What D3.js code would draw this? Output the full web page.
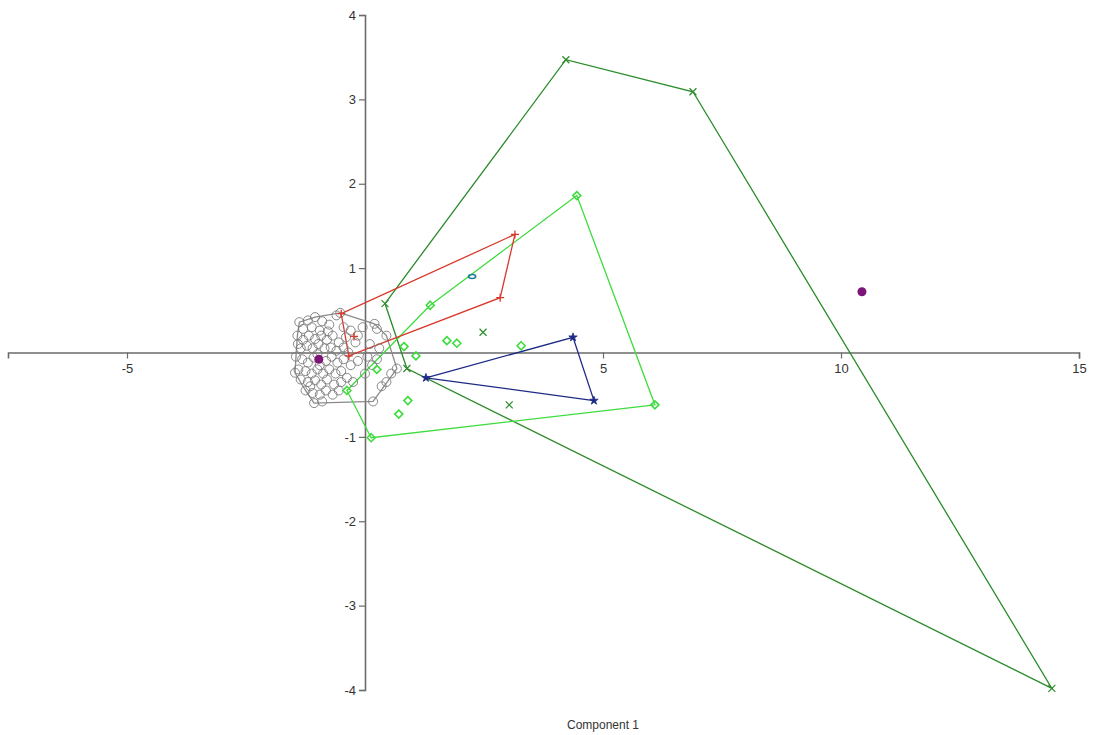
<!DOCTYPE html>
<html>
<head>
<meta charset="utf-8">
<script src="https://cdn.jsdelivr.net/npm/d3@7"></script>
<style>
    body { margin: 0; background: #fff; }
    #chart { width: 1099px; height: 735px; }
    text { font-family: "Liberation Sans", Arial, sans-serif; }
</style>
</head>
<body>
<div id="chart"></div>
<script>
// tick labels
const xTicks = [-5, 5, 10, 15];
const yTicks = [-4, -3, -2, -1, 1, 2, 3, 4];

// group 1 - gray circles
const grayPoints = [
    [-1.38, 0.36], [-1.2, 0.38], [-1.05, 0.42], [-0.9, 0.37], [-0.6, 0.44], [-0.52, 0.47],
    [-0.75, 0.33], [-1.3, 0.28], [-1.12, 0.3], [-0.95, 0.26],
    [-0.45, 0.3], [-0.3, 0.26], [-0.15, 0.2], [-0.05, 0.3], [0.2, 0.34], [0.25, 0.28],
    [0.45, 0.2], [0.1, 0.1], [-0.2, 0.12], [0.3, 0.05],
    [-1.42, 0.2], [-1.3, 0.15], [-1.18, 0.2], [-1.05, 0.16], [-0.92, 0.2], [-0.8, 0.15],
    [-0.68, 0.2], [-0.55, 0.12], [-1.35, 0.05], [-1.22, 0.08], [-1.1, 0.05], [-0.98, 0.1],
    [-0.85, 0.05], [-0.72, 0.06], [-0.6, 0.02], [-0.45, 0.06], [-0.35, 0.0],
    [-1.45, -0.05], [-1.32, -0.08], [-1.2, -0.12], [-1.08, -0.06], [-0.95, -0.15],
    [-0.82, -0.1], [-0.7, -0.05], [-0.58, -0.12], [-0.45, -0.08], [-0.3, -0.15],
    [-0.15, -0.1], [-1.4, -0.2], [-1.25, -0.22], [-1.12, -0.25], [-1.0, -0.2],
    [-0.88, -0.25], [-0.75, -0.2], [-0.62, -0.25], [-0.5, -0.22], [0.05, -0.05],
    [0.15, -0.15], [0.25, -0.08],
    [-1.47, -0.24], [-1.35, -0.32], [-1.2, -0.35], [-1.05, -0.33], [-0.92, -0.38],
    [-0.8, -0.32], [-0.65, -0.38], [-0.5, -0.35], [-0.38, -0.3], [-0.25, -0.35],
    [-1.25, -0.45], [-1.1, -0.48], [-0.95, -0.5], [-0.82, -0.45], [-0.68, -0.5],
    [-0.55, -0.45], [-1.07, -0.6], [-0.9, -0.58], [0.17, -0.58], [0.35, -0.4],
    [0.55, -0.25], [0.67, -0.19], [0.45, -0.35], [-1.41, 0.1], [-1.0, -0.02],
    [-0.78, 0.25], [-1.15, -0.4], [-0.4, 0.18], [0.0, -0.25]
];

// group 2 - red plus
const redPoints = [[-0.5, 0.46], [3.15, 1.4], [2.84, 0.65], [-0.34, -0.04], [-0.23, 0.19]];

// group 3 - light green diamonds
const lightGreenPoints = [
    [4.45, 1.86], [6.09, -0.62], [0.13, -1.01], [-0.38, -0.45], [1.37, 0.56],
    [1.72, 0.14], [1.93, 0.11], [3.28, 0.08], [0.82, 0.07], [1.07, -0.04],
    [0.9, -0.57], [0.71, -0.73], [0.25, -0.2]
];

// group 4 - dark green crosses
const darkGreenPoints = [
    [0.42, 0.58], [4.22, 3.47], [6.89, 3.09], [14.43, -3.98], [0.88, -0.19],
    [2.48, 0.24], [3.03, -0.62]
];

// group 5 - blue stars
const bluePoints = [[4.37, 0.18], [4.81, -0.57], [1.28, -0.3]];

// group 6 - single teal ellipse
const tealPoints = [[2.25, 0.9]];

// purple dots
const purplePoints = [[-0.97, -0.08], [10.44, 0.72]];

var width = 1099, height = 735;

var svg = d3.select("#chart")
    .append("svg")
    .attr("width", width)
    .attr("height", height);

var x = d3.scaleLinear().domain([-7.5, 15]).range([8, 1079]);
var y = d3.scaleLinear().domain([-4, 4]).range([690, 15]);

var axisColor = "#6b6b6b";

// axes
var xAxis = svg.append("g")
    .attr("transform", "translate(0," + y(0) + ")")
    .call(d3.axisBottom(x).tickValues(xTicks).tickSize(6).tickPadding(5).tickFormat(d => String(d)));

var yAxis = svg.append("g")
    .attr("transform", "translate(" + x(0) + ",0)")
    .call(d3.axisLeft(y).tickValues(yTicks).tickSize(6).tickPadding(3).tickFormat(d => String(d)));

[xAxis, yAxis].forEach(function(a) {
    a.select(".domain").attr("stroke", axisColor).attr("stroke-width", 1.6);
    a.selectAll(".tick line").attr("stroke", axisColor).attr("stroke-width", 1.2);
    a.selectAll(".tick text")
        .attr("fill", "#333")
        .attr("font-size", "13px")
        .attr("font-family", "Liberation Sans, Arial, sans-serif");
});

svg.append("text")
    .attr("x", 603)
    .attr("y", 729)
    .attr("text-anchor", "middle")
    .attr("font-size", "12px")
    .attr("fill", "#333")
    .text("Component 1");

var plot = svg.append("g");

function drawHull(points, color) {
    var hull = d3.polygonHull(points);
    plot.append("path")
        .attr("d", d3.line().x(d => x(d[0])).y(d => y(d[1])).curve(d3.curveLinearClosed)(hull))
        .attr("fill", "none")
        .attr("stroke", color)
        .attr("stroke-width", 1.3);
}

var gray = "#8a8a8a", red = "#d8392c", lime = "#3fdc3f", dkgreen = "#2a8c2a", navy = "#1d2a85";

drawHull(grayPoints, gray);
drawHull(darkGreenPoints, dkgreen);
drawHull(lightGreenPoints, lime);
drawHull(redPoints, red);
drawHull(bluePoints, navy);

// gray circles
plot.selectAll(".gray")
    .data(grayPoints)
    .enter()
    .append("circle")
    .attr("class", "gray")
    .attr("cx", d => x(d[0]))
    .attr("cy", d => y(d[1]))
    .attr("r", 4.5)
    .attr("fill", "none")
    .attr("stroke", "#7a7a7a")
    .attr("stroke-width", 0.9);

// red plus
plot.selectAll(".red")
    .data(redPoints)
    .enter()
    .append("path")
    .attr("class", "red")
    .attr("d", d => {
        var px = x(d[0]), py = y(d[1]);
        return "M" + (px - 4) + "," + py + "H" + (px + 4) + "M" + px + "," + (py - 4) + "V" + (py + 4);
    })
    .attr("stroke", red)
    .attr("stroke-width", 1.3);

// light green diamonds
plot.selectAll(".diamond")
    .data(lightGreenPoints)
    .enter()
    .append("path")
    .attr("class", "diamond")
    .attr("d", d => {
        var px = x(d[0]), py = y(d[1]);
        return "M" + px + "," + (py - 4) + "L" + (px + 4) + "," + py + "L" + px + "," + (py + 4) + "L" + (px - 4) + "," + py + "Z";
    })
    .attr("fill", "none")
    .attr("stroke", lime)
    .attr("stroke-width", 1.6);

// dark green crosses
plot.selectAll(".cross")
    .data(darkGreenPoints)
    .enter()
    .append("path")
    .attr("class", "cross")
    .attr("d", d => {
        var px = x(d[0]), py = y(d[1]);
        return "M" + (px - 3.5) + "," + (py - 3.5) + "L" + (px + 3.5) + "," + (py + 3.5) +
            "M" + (px - 3.5) + "," + (py + 3.5) + "L" + (px + 3.5) + "," + (py - 3.5);
    })
    .attr("stroke", dkgreen)
    .attr("stroke-width", 1.2);

// blue stars
plot.selectAll(".star")
    .data(bluePoints)
    .enter()
    .append("path")
    .attr("class", "star")
    .attr("transform", d => "translate(" + x(d[0]) + "," + y(d[1]) + ")")
    .attr("d", d3.symbol().type(d3.symbolStar).size(22))
    .attr("fill", navy)
    .attr("stroke", navy)
    .attr("stroke-width", 0.8);

// teal ellipse
plot.selectAll(".teal")
    .data(tealPoints)
    .enter()
    .append("ellipse")
    .attr("class", "teal")
    .attr("cx", d => x(d[0]))
    .attr("cy", d => y(d[1]))
    .attr("rx", 3.5)
    .attr("ry", 2)
    .attr("fill", "none")
    .attr("stroke", "#1c7a96")
    .attr("stroke-width", 1.6);

// purple dots
plot.selectAll(".purple")
    .data(purplePoints)
    .enter()
    .append("circle")
    .attr("class", "purple")
    .attr("cx", d => x(d[0]))
    .attr("cy", d => y(d[1]))
    .attr("r", 4.5)
    .attr("fill", "#7b1578");
</script>
</body>
</html>
